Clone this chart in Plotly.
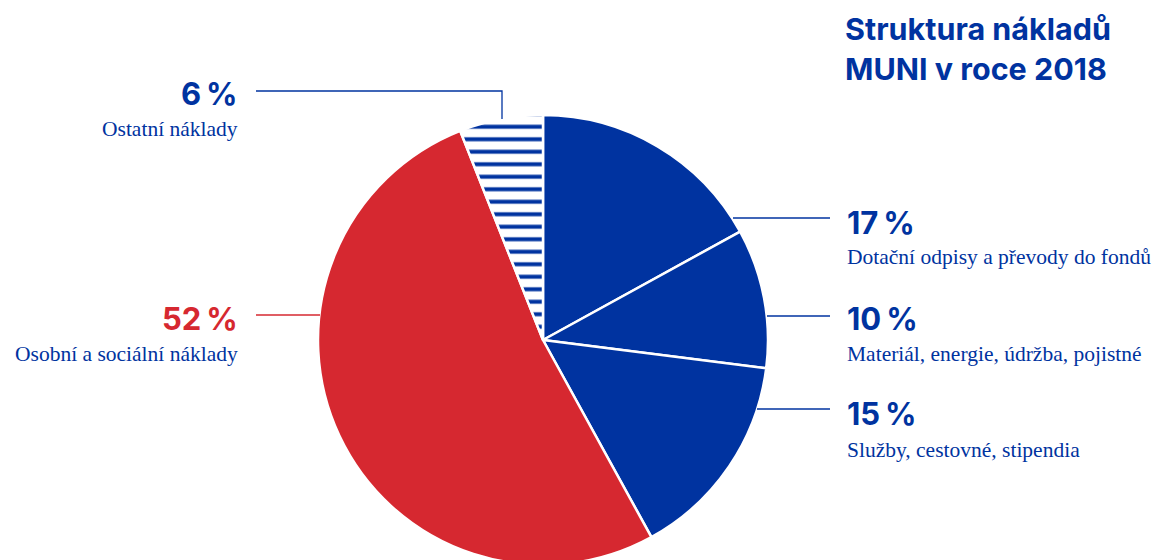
import plotly.graph_objects as go

# data
labels = ["Dotační odpisy a převody do fondů",
          "Materiál, energie, údržba, pojistné",
          "Služby, cestovné, stipendia",
          "Osobní a sociální náklady",
          "Ostatní náklady"]
shares = [17, 10, 15, 52, 6]
title_lines = ["Struktura nákladů", "MUNI v roce 2018"]

BLUE = "#0033a0"
RED = "#d62830"
slice_colors = [BLUE, BLUE, BLUE, RED, "white"]
patterns = ["", "", "", "", "-"]

W, H = 1168, 560
OFF = 8  # page body margin


def px(x):
    return (x - OFF) / W


def py(y):
    return 1 - (y - OFF) / H


fig = go.Figure()
fig.add_trace(go.Pie(
    labels=labels,
    values=shares,
    sort=False,
    direction="clockwise",
    rotation=0,
    textinfo="none",
    hoverinfo="label+percent",
    marker=dict(colors=slice_colors,
                line=dict(color="white", width=2.5),
                pattern=dict(shape=patterns, fgcolor=BLUE, bgcolor="white",
                             size=12.5, solidity=0.32)),
    domain=dict(x=[px(318), px(768)], y=[py(565), py(115)]),
    showlegend=False,
))

# label layout: (slice, side, label x, pct y, desc y, leader line pts)
label_spec = [
    (0, "right", 845, 222, 257, [(733, 218), (830, 218)]),
    (1, "right", 845, 318, 354, [(767, 316), (830, 316)]),
    (2, "right", 845, 413, 450, [(757, 409), (830, 409)]),
    (3, "left", 240, 318, 354, [(256, 315), (320, 315)]),
    (4, "left", 240, 93, 129, [(256, 91), (502, 91), (502, 119)]),
]

annotations = []
shapes = []
for i, side, x, y_pct, y_desc, pts in label_spec:
    col = RED if i == 3 else BLUE
    anchor = "left" if side == "right" else "right"
    annotations.append(dict(
        x=px(x), y=py(y_pct), xref="paper", yref="paper",
        text="<b>%d\u2009%%</b>" % shares[i], showarrow=False,
        xanchor=anchor, yanchor="middle",
        font=dict(family="Inter", size=31, color=col)))
    annotations.append(dict(
        x=px(x), y=py(y_desc), xref="paper", yref="paper",
        text=labels[i], showarrow=False,
        xanchor=anchor, yanchor="middle",
        font=dict(family="Liberation Serif", size=21.5, color=BLUE)))
    path = "M " + " L ".join("%f,%f" % (px(a), py(b)) for a, b in pts)
    shapes.append(dict(type="path", path=path, xref="paper", yref="paper",
                       line=dict(color=col, width=1.3)))

# title
annotations.append(dict(
    x=px(843), y=1, xref="paper", yref="paper",
    text="<b>%s</b>" % "<br>".join(title_lines), showarrow=False,
    xanchor="left", yanchor="top", align="left",
    font=dict(family="Inter", size=30.5, color=BLUE)))

fig.update_layout(
    width=W, height=H,
    margin=dict(l=0, r=0, t=0, b=0),
    paper_bgcolor="white",
    plot_bgcolor="white",
    annotations=annotations,
    shapes=shapes,
)

fig.write_html("out.html")
